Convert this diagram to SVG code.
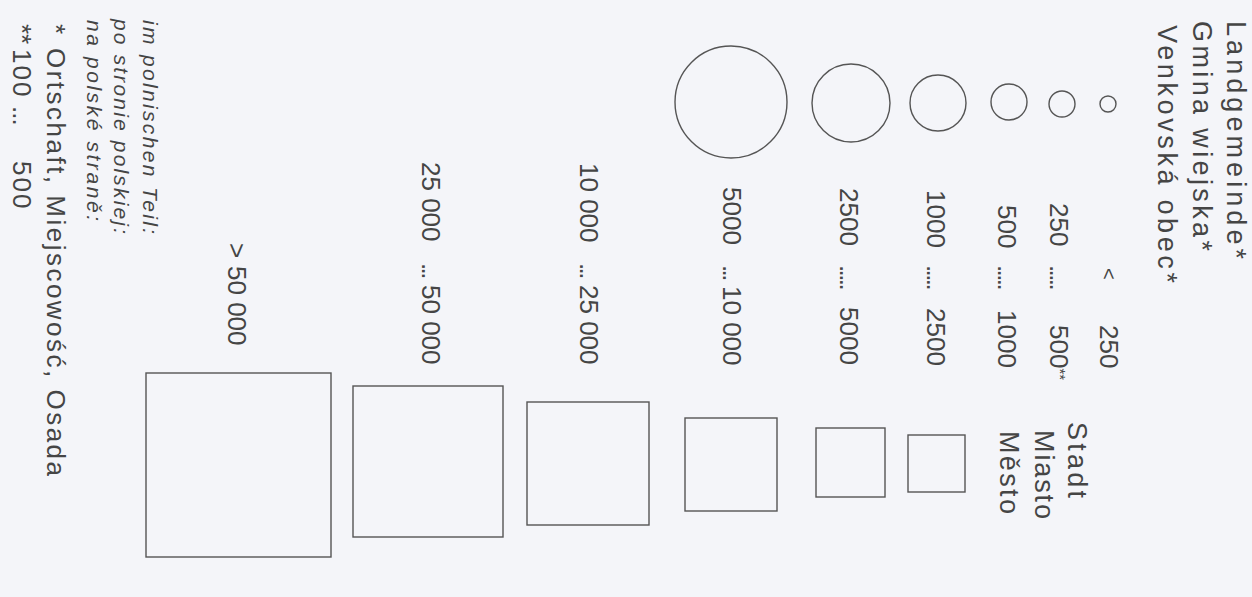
<svg xmlns="http://www.w3.org/2000/svg" width="1252" height="597" viewBox="0 0 1252 597">
<style>
text{font-family:"Liberation Sans",Arial,sans-serif;fill:#454545;font-size:26px}
.hd{font-size:27px}
.it{font-style:italic;font-size:21px}
.sym{fill:none;stroke:#555;stroke-width:1.4}
.dots{letter-spacing:-2.6px}
.sup{font-size:15px}
</style>
<rect width="1252" height="597" fill="#f4f5f9"/>
<g id="header">
<text class="hd" transform="translate(1227,21) rotate(90)" textLength="238" lengthAdjust="spacing">Landgemeinde*</text>
<text class="hd" transform="translate(1193,21) rotate(90)" textLength="230" lengthAdjust="spacing">Gmina wiejska*</text>
<text class="hd" transform="translate(1158,25) rotate(90)" textLength="258" lengthAdjust="spacing">Venkovská obec*</text>
</g>
<g id="city-header">
<text class="hd" transform="translate(1068,422) rotate(90)" textLength="76" lengthAdjust="spacing">Stadt</text>
<text class="hd" transform="translate(1035,430) rotate(90)" textLength="89" lengthAdjust="spacing">Miasto</text>
<text class="hd" transform="translate(1000,431) rotate(90)" textLength="83" lengthAdjust="spacing">Město</text>
</g>
<g id="circles">
<circle class="sym" cx="1108" cy="104" r="8"/>
<circle class="sym" cx="1062" cy="104" r="13"/>
<circle class="sym" cx="1009" cy="102" r="18"/>
<circle class="sym" cx="938" cy="103" r="28"/>
<circle class="sym" cx="851" cy="103" r="39"/>
<circle class="sym" cx="731" cy="102" r="56"/>
</g>
<g id="squares">
<rect class="sym" x="908" y="435" width="57" height="57"/>
<rect class="sym" x="816" y="428" width="69" height="69"/>
<rect class="sym" x="685" y="418" width="92" height="93"/>
<rect class="sym" x="527" y="402" width="122" height="123"/>
<rect class="sym" x="353" y="386" width="150" height="151"/>
<rect class="sym" x="146" y="373" width="185" height="184"/>
</g>
<g id="labels">
<text transform="translate(1100,0) rotate(90)"><tspan x="268" font-size="20" dy="-2">&lt;</tspan><tspan x="325" dy="2">250</tspan></text>
<text transform="translate(1050,0) rotate(90)"><tspan x="203">250</tspan><tspan x="265" class="dots">.....</tspan><tspan x="325">500</tspan><tspan class="sup" dy="-5">**</tspan></text>
<text transform="translate(998,0) rotate(90)"><tspan x="205">500</tspan><tspan x="265" class="dots">.....</tspan><tspan x="310">1000</tspan></text>
<text transform="translate(927,0) rotate(90)"><tspan x="190">1000</tspan><tspan x="265" class="dots">.....</tspan><tspan x="308">2500</tspan></text>
<text transform="translate(840,0) rotate(90)"><tspan x="188">2500</tspan><tspan x="265" class="dots">.....</tspan><tspan x="307">5000</tspan></text>
<text transform="translate(723,0) rotate(90)"><tspan x="187">5000</tspan><tspan x="265" class="dots">...</tspan><tspan x="286">10 000</tspan></text>
<text transform="translate(580,0) rotate(90)"><tspan x="163">10 000</tspan><tspan x="263" class="dots">...</tspan><tspan x="285">25 000</tspan></text>
<text transform="translate(422,0) rotate(90)"><tspan x="162">25 000</tspan><tspan x="263" class="dots">...</tspan><tspan x="285">50 000</tspan></text>
<text transform="translate(228,0) rotate(90)"><tspan x="243">&gt;</tspan><tspan x="266">50 000</tspan></text>
</g>
<g id="footnotes">
<text class="it" transform="translate(143,20) rotate(90)" textLength="214" lengthAdjust="spacing">im polnischen Teil:</text>
<text class="it" transform="translate(114,19) rotate(90)" textLength="215" lengthAdjust="spacing">po stronie polskiej:</text>
<text class="it" transform="translate(87,20) rotate(90)" textLength="201" lengthAdjust="spacing">na polské straně:</text>
<text transform="translate(47,24) rotate(90)">*</text>
<text transform="translate(47,48) rotate(90)" textLength="428" lengthAdjust="spacing">Ortschaft, Miejscowość, Osada</text>
<text transform="translate(13,0) rotate(90)" style="letter-spacing:2px"><tspan x="24" style="letter-spacing:0">**</tspan><tspan x="49">100</tspan><tspan x="106" style="letter-spacing:-1px">...</tspan><tspan x="161">500</tspan></text>
</g>
</svg>
